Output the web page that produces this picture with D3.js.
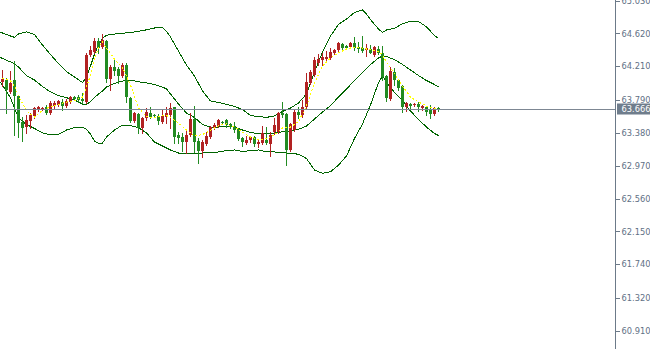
<!DOCTYPE html>
<html>
<head>
  <meta charset="utf-8">
  <title>Candles with Bollinger Bands</title>
  <style>
    body {
      margin: 0;
      background-color: white;
    }
    .price-label {
      font-family: "DejaVu Sans", sans-serif;
      font-size: 8.3px;
    }
  </style>
  <script src="https://d3js.org/d3.v7.min.js"></script>
</head>
<body>
  <div id="chart"></div>
  <script>
    // Candle data (one bar per slot, oldest first)
    const opens = [
      64.01, 64.04, 63.89, 64.04, 63.84, 63.52, 63.45, 63.53, 63.59, 63.66,
      63.68, 63.70, 63.63, 63.71, 63.73, 63.76, 63.71, 63.76, 63.83, 63.83,
      63.80, 63.76, 64.35, 64.39, 64.52, 64.45, 64.52, 64.05, 64.20, 64.18,
      64.09, 64.23, 63.81, 63.53, 63.61, 63.44, 63.56, 63.63, 63.60, 63.59,
      63.52, 63.58, 63.60, 63.70, 63.35, 63.33, 63.27, 63.35, 63.55, 63.28,
      63.15, 63.24, 63.33, 63.44, 63.47, 63.52, 63.54, 63.49, 63.47, 63.43,
      63.32, 63.25, 63.29, 63.33, 63.24, 63.25, 63.29, 63.24, 63.39, 63.39,
      63.63, 63.61, 63.17, 63.42, 63.64, 63.60, 63.70, 64.00, 64.10, 64.25,
      64.29, 64.30, 64.31, 64.38, 64.41, 64.49, 64.46, 64.45, 64.50, 64.45,
      64.44, 64.41, 64.43, 64.35, 64.43, 64.38, 64.09, 63.80, 64.14, 64.04,
      63.96, 63.70, 63.74, 63.73, 63.74, 63.69, 63.70, 63.68, 63.61, 63.69
    ];
    const highs = [
      64.16, 64.06, 64.15, 64.28, 63.85, 63.58, 63.60, 63.63, 63.70, 63.71,
      63.70, 63.73, 63.78, 63.78, 63.79, 63.80, 63.80, 63.84, 63.84, 63.85,
      63.88, 64.38, 64.46, 64.56, 64.56, 64.61, 64.54, 64.23, 64.29, 64.20,
      64.25, 64.25, 63.83, 63.64, 63.63, 63.58, 63.69, 63.70, 63.61, 63.61,
      63.66, 63.70, 63.75, 63.70, 63.39, 63.38, 63.40, 63.63, 63.71, 63.32,
      63.29, 63.39, 63.46, 63.50, 63.55, 63.53, 63.55, 63.50, 63.52, 63.44,
      63.33, 63.34, 63.34, 63.34, 63.30, 63.46, 63.45, 63.39, 63.56, 63.64,
      63.76, 63.63, 63.50, 63.66, 63.70, 63.79, 64.13, 64.16, 64.33, 64.36,
      64.38, 64.40, 64.44, 64.43, 64.51, 64.50, 64.47, 64.51, 64.57, 64.51,
      64.59, 64.49, 64.48, 64.46, 64.46, 64.46, 64.10, 64.20, 64.19, 64.05,
      63.98, 63.76, 63.75, 63.75, 63.76, 63.73, 63.71, 63.73, 63.70, 63.70
    ];
    const lows = [
      63.96, 63.63, 63.88, 63.35, 63.33, 63.28, 63.38, 63.44, 63.56, 63.65,
      63.67, 63.62, 63.62, 63.69, 63.71, 63.66, 63.70, 63.75, 63.79, 63.76,
      63.75, 63.75, 64.34, 64.38, 64.38, 64.44, 64.01, 63.91, 64.10, 64.00,
      64.08, 63.76, 63.52, 63.51, 63.38, 63.38, 63.54, 63.56, 63.58, 63.49,
      63.50, 63.50, 63.44, 63.25, 63.25, 63.15, 63.13, 63.34, 63.14, 63.00,
      63.08, 63.23, 63.32, 63.43, 63.45, 63.49, 63.45, 63.44, 63.39, 63.29,
      63.22, 63.24, 63.27, 63.22, 63.20, 63.24, 63.24, 63.09, 63.37, 63.38,
      63.58, 62.98, 63.15, 63.40, 63.56, 63.58, 63.69, 63.99, 64.09, 64.23,
      64.23, 64.26, 64.30, 64.36, 64.40, 64.41, 64.43, 64.44, 64.41, 64.39,
      64.39, 64.34, 64.37, 64.34, 64.36, 64.04, 63.78, 63.79, 63.98, 63.91,
      63.64, 63.65, 63.68, 63.72, 63.65, 63.66, 63.60, 63.56, 63.60, 63.65
    ];
    const closes = [
      64.05, 63.91, 64.00, 63.84, 63.50, 63.44, 63.54, 63.60, 63.69, 63.70,
      63.69, 63.63, 63.75, 63.75, 63.78, 63.71, 63.78, 63.83, 63.80, 63.79,
      63.78, 64.35, 64.41, 64.52, 64.44, 64.54, 64.05, 64.20, 64.15, 64.09,
      64.23, 63.83, 63.53, 63.63, 63.44, 63.56, 63.64, 63.58, 63.59, 63.53,
      63.59, 63.63, 63.69, 63.33, 63.31, 63.27, 63.35, 63.55, 63.27, 63.15,
      63.27, 63.34, 63.45, 63.48, 63.54, 63.50, 63.48, 63.45, 63.42, 63.30,
      63.27, 63.29, 63.33, 63.24, 63.27, 63.38, 63.25, 63.35, 63.48, 63.63,
      63.60, 63.17, 63.49, 63.64, 63.60, 63.70, 64.01, 64.14, 64.29, 64.30,
      64.33, 64.33, 64.39, 64.41, 64.50, 64.44, 64.44, 64.50, 64.44, 64.42,
      64.40, 64.44, 64.38, 64.45, 64.38, 64.08, 63.81, 64.15, 64.04, 63.94,
      63.70, 63.75, 63.71, 63.74, 63.70, 63.71, 63.64, 63.61, 63.69, 63.666
    ];

    // Indicator samples, at these bar positions
    const bandIdx = [-0.625, 0, 2, 3, 4, 6, 8, 10, 12, 14, 16, 18, 20, 21, 22, 23, 24, 25, 26, 28,
      30, 32, 34, 36, 38, 40, 41, 42, 44, 46, 48, 50, 52, 54, 56, 58, 60, 62, 64, 66,
      68, 70, 72, 74, 76, 78, 80, 82, 84, 86, 88, 90, 91, 92, 94, 95, 96, 98, 100, 102,
      104, 106, 108, 109];
    const upperBand = [64.633, 64.625, 64.587, 64.571, 64.612, 64.640, 64.606, 64.475, 64.356, 64.244,
      64.144, 64.076, 64.007, 64.070, 64.213, 64.363, 64.475, 64.556, 64.597, 64.612,
      64.621, 64.631, 64.647, 64.664, 64.687, 64.697, 64.643, 64.575, 64.400, 64.225,
      64.088, 63.901, 63.777, 63.758, 63.735, 63.708, 63.671, 63.596, 63.583, 63.573,
      63.590, 63.646, 63.689, 63.752, 63.864, 64.138, 64.388, 64.587, 64.731, 64.799,
      64.880, 64.914, 64.861, 64.793, 64.674, 64.631, 64.662, 64.684, 64.739, 64.772,
      64.768, 64.702, 64.593, 64.556];
    const middleBand = [64.321, 64.308, 64.264, 64.244, 64.200, 64.094, 64.038, 63.957, 63.890, 63.845,
      63.818, 63.789, 63.739, 63.733, 63.770, 63.820, 63.864, 63.901, 63.951, 63.995,
      64.026, 64.038, 64.017, 64.003, 63.982, 63.951, 63.926, 63.864, 63.739, 63.627,
      63.571, 63.483, 63.452, 63.452, 63.456, 63.452, 63.415, 63.384, 63.371, 63.365,
      63.378, 63.392, 63.402, 63.424, 63.465, 63.552, 63.639, 63.720, 63.826, 63.926,
      64.032, 64.132, 64.182, 64.232, 64.313, 64.338, 64.331, 64.294, 64.232, 64.163,
      64.094, 64.032, 63.982, 63.955];
    const lowerBand = [64.013, 63.976, 63.814, 63.689, 63.565, 63.483, 63.434, 63.378, 63.353, 63.359,
      63.415, 63.446, 63.452, 63.421, 63.365, 63.278, 63.247, 63.253, 63.328, 63.415,
      63.477, 63.471, 63.446, 63.378, 63.265, 63.215, 63.190, 63.166, 63.128, 63.116,
      63.122, 63.128, 63.134, 63.141, 63.159, 63.166, 63.147, 63.159, 63.166, 63.144,
      63.141, 63.133, 63.124, 63.113, 63.060, 62.916, 62.875, 62.895, 62.978, 63.091,
      63.309, 63.490, 63.608, 63.727, 64.007, 64.088, 64.013, 63.883, 63.783, 63.652,
      63.546, 63.452, 63.371, 63.346];
    const fastMA = [null, 64.063, 64.026, 63.964, 63.839, 63.652, 63.577, 63.658, 63.708, 63.733,
      63.764, 63.783, 63.826, 63.951, 64.101, 64.288, 64.450, 64.512, 64.437, 64.300,
      64.194, 63.976, 63.689, 63.583, 63.571, 63.590, 63.596, 63.571, 63.502, 63.415,
      63.340, 63.359, 63.409, 63.471, 63.490, 63.452, 63.390, 63.328, 63.296, 63.309,
      63.353, 63.440, 63.452, 63.521, 63.714, 64.001, 64.213, 64.313, 64.375, 64.425,
      64.450, 64.437, 64.425, 64.419, 64.394, 64.350, 64.263, 64.113, 63.964, 63.826,
      63.764, 63.714, 63.689, 63.683];

    // Price axis labels and the current bid
    const tickValues = [65.030, 64.620, 64.210, 63.790, 63.380, 62.970, 62.560, 62.150, 61.740, 61.320, 60.910];
    const bidPrice = 63.666;

    const width = 650, height = 349, axisX = 615.5;

    const svg = d3.select("#chart")
      .append("svg")
        .attr("width", width)
        .attr("height", height)
        .style("display", "block")
        .style("background-color", "white");

    const x = d3.scaleLinear().domain([0, closes.length - 1]).range([2.5, 438.5]);
    const y = d3.scaleLinear().domain([60.91, 65.03]).range([330.9, 0.5]);

    // Bollinger bands (aliased, like the terminal draws them)
    const bandLine = d3.line()
      .x((d, i) => x(bandIdx[i]))
      .y(d => y(d));

    [upperBand, middleBand, lowerBand].forEach(band => {
      svg.append("path")
        .datum(band)
        .attr("fill", "none")
        .attr("stroke", "#006400")
        .attr("stroke-width", 1)
        .attr("shape-rendering", "crispEdges")
        .attr("d", bandLine);
    });

    // Candles: red rising, green falling
    const bars = closes.map((c, i) => ({i, o: opens[i], h: highs[i], l: lows[i], c}));
    const barColor = d => d.c >= d.o ? "#b22222" : "#228b22";

    const candles = svg.append("g").attr("shape-rendering", "crispEdges");

    candles.selectAll(".wick")
      .data(bars)
      .enter().append("rect")
        .attr("class", "wick")
        .attr("x", d => x(d.i) - 0.5)
        .attr("width", 1)
        .attr("y", d => Math.round(y(d.h)))
        .attr("height", d => Math.max(1, Math.round(y(d.l)) - Math.round(y(d.h)) + 1))
        .attr("fill", barColor);

    candles.selectAll(".body")
      .data(bars)
      .enter().append("rect")
        .attr("class", "body")
        .attr("x", d => x(d.i) - 1.5)
        .attr("width", 3)
        .attr("y", d => Math.round(y(Math.max(d.o, d.c))))
        .attr("height", d => Math.max(1, Math.round(y(Math.min(d.o, d.c))) - Math.round(y(Math.max(d.o, d.c)))))
        .attr("fill", barColor);

    // Dotted yellow moving average
    svg.append("path")
      .datum(fastMA)
      .attr("fill", "none")
      .attr("stroke", "#ffff00")
      .attr("stroke-width", 1)
      .attr("stroke-dasharray", "2,2")
      .attr("shape-rendering", "crispEdges")
      .attr("d", d3.line()
        .defined(d => d !== null)
        .x((d, i) => x(bandIdx[i]))
        .y(d => y(d)));

    // Bid line
    const bidY = Math.floor(y(bidPrice)) + 0.5;
    svg.append("line")
      .attr("x1", 0)
      .attr("x2", axisX)
      .attr("y1", bidY)
      .attr("y2", bidY)
      .attr("stroke", "#7d8793")
      .attr("stroke-width", 1);

    // Price axis on the right
    svg.append("line")
      .attr("x1", axisX)
      .attr("x2", axisX)
      .attr("y1", 0)
      .attr("y2", height)
      .attr("stroke", "#6c7a89")
      .attr("stroke-width", 1);

    const axis = svg.append("g")
      .attr("transform", `translate(${axisX},0)`)
      .attr("shape-rendering", "crispEdges")
      .call(d3.axisRight(y)
        .tickValues(tickValues)
        .tickSize(4)
        .tickPadding(2)
        .tickFormat(d3.format(".3f")));

    axis.select(".domain").remove();
    axis.selectAll("line").attr("stroke", "#6c7a89");
    axis.selectAll("text")
      .attr("class", "price-label")
      .attr("font-family", null)
      .attr("font-size", null)
      .attr("fill", "#5f7186");

    // Current price tag
    svg.append("rect")
      .attr("x", axisX + 1.5)
      .attr("y", bidY - 6)
      .attr("width", width - axisX - 1.5)
      .attr("height", 11)
      .attr("fill", "#6f7d8c");

    svg.append("text")
      .attr("class", "price-label")
      .attr("x", axisX + 6)
      .attr("y", bidY)
      .attr("dy", "0.32em")
      .attr("fill", "white")
      .text(bidPrice.toFixed(3));
  </script>
</body>
</html>
